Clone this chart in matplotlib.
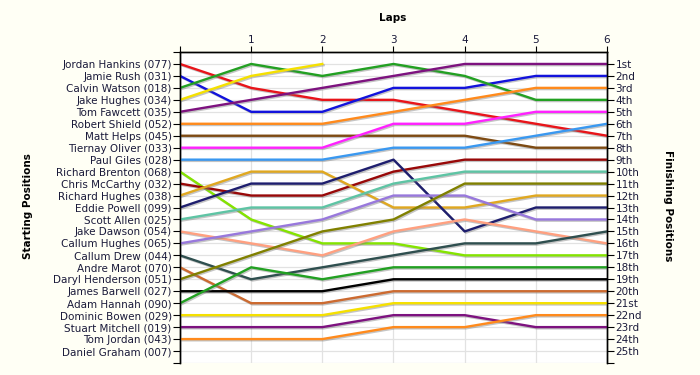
import numpy as np
import matplotlib
matplotlib.use('Agg')
import matplotlib.pyplot as plt
import matplotlib.patheffects as pe

nan = np.nan

laps = [0, 1, 2, 3, 4, 5, 6]

drivers = [
    'Jordan Hankins (077)', 'Jamie Rush (031)', 'Calvin Watson (018)',
    'Jake Hughes (034)', 'Tom Fawcett (035)', 'Robert Shield (052)',
    'Matt Helps (045)', 'Tiernay Oliver (033)', 'Paul Giles (028)',
    'Richard Brenton (068)', 'Chris McCarthy (032)', 'Richard Hughes (038)',
    'Eddie Powell (099)', 'Scott Allen (025)', 'Jake Dawson (054)',
    'Callum Hughes (065)', 'Callum Drew (044)', 'Andre Marot (070)',
    'Daryl Henderson (051)', 'James Barwell (027)', 'Adam Hannah (090)',
    'Dominic Bowen (029)', 'Stuart Mitchell (019)', 'Tom Jordan (043)',
    'Daniel Graham (007)',
]

# race position of each driver after each lap (lap 0 = grid)
positions = [
    [1, 3, 4, 4, 5, 6, 7],
    [2, 5, 5, 3, 3, 2, 2],
    [3, 1, 2, 1, 2, 4, 4],
    [4, 2, 1, nan, nan, nan, nan],
    [5, 4, 3, 2, 1, 1, 1],
    [6, 6, 6, 5, 4, 3, 3],
    [7, 7, 7, 7, 7, 8, 8],
    [8, 8, 8, 6, 6, 5, 5],
    [9, 9, 9, 8, 8, 7, 6],
    [10, 14, 16, 16, 17, 17, 17],
    [11, 12, 12, 10, 9, 9, 9],
    [12, 10, 10, 13, 13, 12, 12],
    [13, 11, 11, 9, 15, 13, 13],
    [14, 13, 13, 11, 10, 10, 10],
    [15, 16, 17, 15, 14, 15, 16],
    [16, 15, 14, 12, 12, 14, 14],
    [17, 19, 18, 17, 16, 16, 15],
    [18, 21, 21, 20, 20, 20, 20],
    [19, 17, 15, 14, 11, 11, 11],
    [20, 20, 20, 19, 19, 19, 19],
    [21, 18, 19, 18, 18, 18, 18],
    [22, 22, 22, 21, 21, 21, 21],
    [23, 23, 23, 22, 22, 23, 23],
    [24, 24, 24, 23, 23, 22, 22],
    [nan, nan, nan, nan, nan, nan, nan],
]

finish_labels = ['1st', '2nd', '3rd'] + [f'{i}th' for i in range(4, 21)] + \
    ['21st', '22nd', '23rd', '24th', '25th']

colors = [
    '#e8141a', '#1212dc', '#22a022', '#f5e000', '#7d127f', '#ff8a1c',
    '#7d4a12', '#ff22ff', '#3a98f0', '#84e400', '#980808', '#e0a820',
    '#1e1e6e', '#5ec4a4', '#ffa080', '#9878dc', '#2f4f4f', '#cc6a30',
    '#808000', '#000000', '#22a022', '#f5e000', '#7d127f', '#ff8a1c',
    '#000000',
]

txt = '#1a1a3a'
bg = '#fffff5'

fig = plt.figure(figsize=(7, 3.75), dpi=100, facecolor=bg)
ax = fig.add_axes([180 / 700, 1 - 363 / 375, 427 / 700, 311 / 375])
ax.set_facecolor('white')
ax.set_xlim(0, 6)
ax.set_ylim(26, 0)

for r in range(1, 27):
    ax.axhline(r, color='#e2e2e2', lw=0.9, zorder=0)
for lp in range(1, 6):
    ax.axvline(lp, color='#e2e2e2', lw=0.9, zorder=0)

for pos, c in zip(positions, colors):
    ax.plot(laps, pos, color=c, lw=1.7, zorder=3,
            path_effects=[pe.SimpleLineShadow(offset=(0.9, -0.9), shadow_color='#808080', alpha=0.45),
                          pe.Normal()])

ax.xaxis.tick_top()
ax.set_xticks(laps)
ax.set_xticklabels([''] + [str(l) for l in laps[1:]])
ax.tick_params(axis='x', length=4, pad=1, labelsize=7.5, labelcolor=txt, color='black')

ax.set_yticks(range(0, 27))
ax.set_yticklabels([''] + drivers + [''])
ax.tick_params(axis='y', length=5, pad=1, labelsize=7.5, labelcolor=txt, color='black')

ax2 = ax.twinx()
ax2.set_ylim(26, 0)
ax2.set_yticks(range(1, 27))
ax2.set_yticklabels(finish_labels + [''])
ax2.tick_params(axis='y', length=5, pad=1, labelsize=7.5, labelcolor=txt, color='black')

for a in (ax, ax2):
    a.spines['bottom'].set_visible(False)
    for s in ('top', 'left', 'right'):
        a.spines[s].set_linewidth(1.0)

fig.text(393 / 700, 1 - 18 / 375, 'Laps', ha='center', va='center',
         fontsize=7.5, fontweight='bold', color='black')
fig.text(28 / 700, 1 - 206 / 375, 'Starting Positions', ha='center', va='center',
         rotation=90, fontsize=7.5, fontweight='bold', color='black')
fig.text(668 / 700, 1 - 206 / 375, 'Finishing Positions', ha='center', va='center',
         rotation=270, fontsize=7.5, fontweight='bold', color='black')

plt.savefig('out.png', dpi=100, facecolor=bg)
